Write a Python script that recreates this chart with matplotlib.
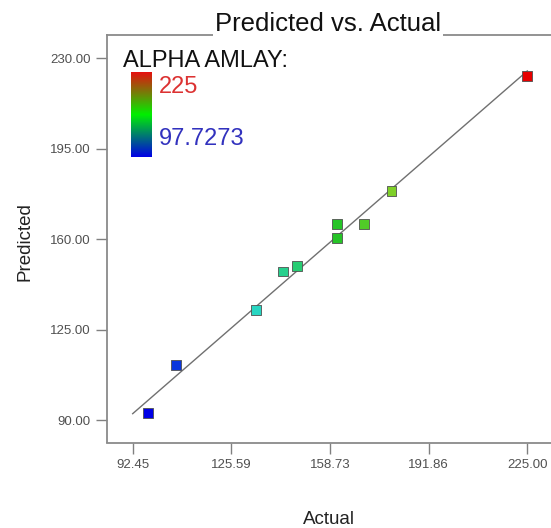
import numpy as np
import matplotlib
matplotlib.use("Agg")
import matplotlib.pyplot as plt
from matplotlib.colors import LinearSegmentedColormap, Normalize

plt.rcParams['font.family'] = ['Liberation Sans', 'DejaVu Sans']

# ---- data ----
actual = [97.7273, 106.9, 133.9, 143.0, 147.6, 161.1, 161.1, 170.2, 179.4, 225.0]
predicted = [92.6, 111.2, 132.4, 147.4, 149.7, 165.9, 160.5, 165.9, 178.7, 223.2]
x_ticks = [92.45, 125.59, 158.73, 191.86, 225.00]
y_ticks = [90.0, 125.0, 160.0, 195.0, 230.0]
color_min = 97.7273
color_max = 225.0
legend_title = "ALPHA AMLAY:"

W, H = 551, 528
fig = plt.figure(figsize=(W / 100, H / 100), dpi=100)

def px(x, y):
    return x / W, 1 - y / H

# main axes
ax = fig.add_axes([107 / W, 1 - 442.5 / H, (W - 107) / W, (442.5 - 35) / H])
ax.set_xlim(83.82, 232.96)
ax.set_ylim(81.3, 238.9)

# colour maps
pt_cmap = LinearSegmentedColormap.from_list(
    "pts", [(0.0, "#0000e6"), (0.28, "#28d6c4"), (0.5, "#26c426"),
            (0.64, "#7ed228"), (1.0, "#e60000")])
bar_cmap = LinearSegmentedColormap.from_list(
    "bar", [(0.0, "#0000e6"), (0.5, "#00f000"), (1.0, "#e61010")])
norm = Normalize(color_min, color_max)

# y = x reference line
lo, hi = x_ticks[0], x_ticks[-1]
ax.plot([lo, hi], [lo, hi], color="#707070", lw=1.0, zorder=2)

# points
cols = pt_cmap(norm(np.array(actual)))
ax.scatter(actual, predicted, marker="s", s=50, c=cols,
           edgecolors="#505050", linewidths=0.6, zorder=3)

ax.set_xticks(x_ticks)
ax.set_xticklabels([f"{v:.2f}" for v in x_ticks])
ax.set_yticks(y_ticks)
ax.set_yticklabels([f"{v:.2f}" for v in y_ticks])
ax.tick_params(axis="both", length=8, width=1.0, color="#808080",
               labelsize=9.5, labelcolor="#505050", pad=4)
for s in ["left", "bottom", "top"]:
    ax.spines[s].set_color("#8a8a8a")
    ax.spines[s].set_linewidth(1.3)
ax.spines["right"].set_visible(False)

# title over the top spine
fx, fy = px(328, 30.7)
fig.text(fx, fy, "Predicted vs. Actual", ha="center", va="baseline",
         fontsize=18.5, color="#111111",
         bbox=dict(facecolor="white", edgecolor="none", pad=1.5), zorder=10)

# axis labels
fx, fy = px(25, 241.7)
fig.text(fx, fy, "Predicted", rotation=90, ha="center", va="center",
         fontsize=13.5, color="#222222")
fx, fy = px(329, 520)
fig.text(fx, fy, "Actual", ha="center", va="center",
         fontsize=13.5, color="#222222")

# legend colour bar
cax = fig.add_axes([131 / W, 1 - 157 / H, 21 / W, 85 / H])
cax.imshow(np.linspace(0, 1, 256).reshape(-1, 1), aspect="auto",
           cmap=bar_cmap, origin="lower")
cax.set_axis_off()

fx, fy = px(123, 66.7)
fig.text(fx, fy, legend_title, ha="left", va="baseline", fontsize=17,
         color="#111111")
fx, fy = px(159, 93.3)
fig.text(fx, fy, f"{color_max:g}", ha="left", va="baseline", fontsize=17,
         color="#dc3232")
fx, fy = px(159, 145)
fig.text(fx, fy, f"{color_min:g}", ha="left", va="baseline", fontsize=17,
         color="#3232be")

fig.savefig("out.png", dpi=100)
